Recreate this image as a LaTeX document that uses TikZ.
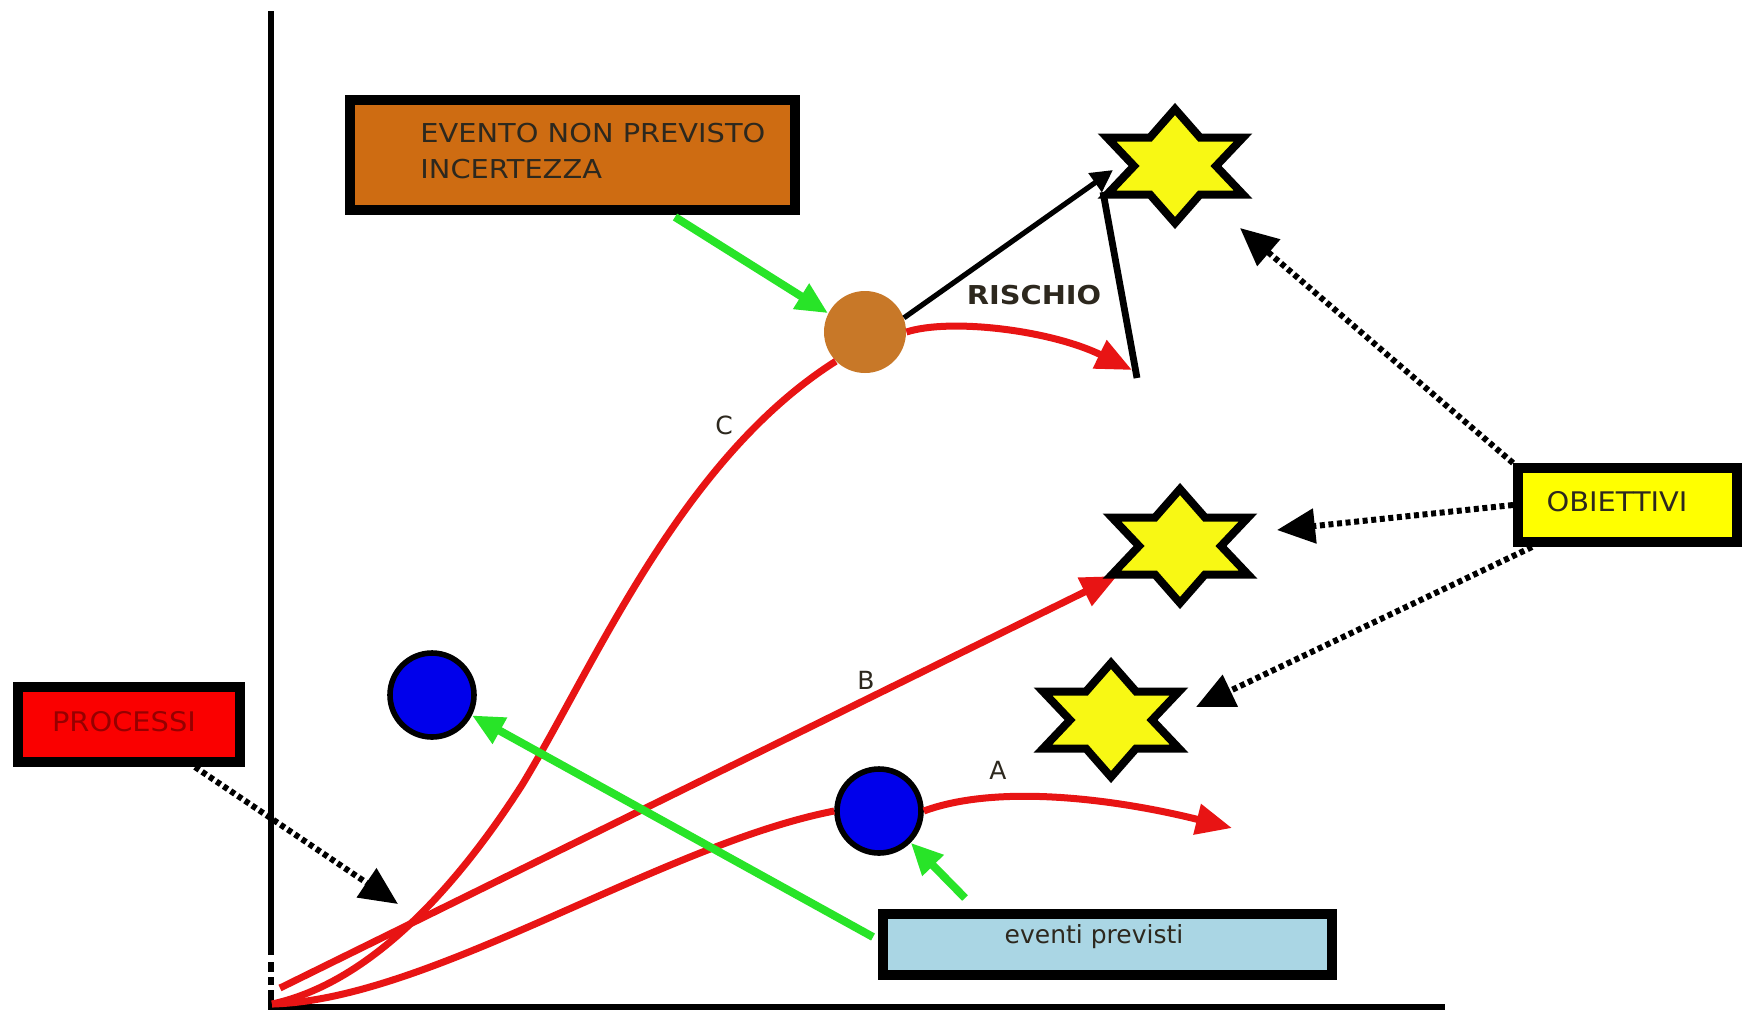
\documentclass[tikz,border=0pt]{standalone}
\usepackage{fontspec}
\setmainfont{DejaVu Sans}
\newfontfamily\widefont[FakeStretch=1.11]{DejaVu Sans}
\newfontfamily\midfont[FakeStretch=1.07]{DejaVu Sans}
\usetikzlibrary{arrows.meta}
\definecolor{evboxc}{RGB}{206,108,18}
\definecolor{brownc}{RGB}{200,120,40}
\definecolor{redc}{RGB}{232,20,20}
\definecolor{procc}{RGB}{250,0,0}
\definecolor{proctxt}{RGB}{150,0,0}
\definecolor{yelc}{RGB}{255,255,0}
\definecolor{starc}{RGB}{248,248,20}
\definecolor{ltblue}{RGB}{170,214,228}
\definecolor{greenc}{RGB}{40,228,40}
\definecolor{bluec}{RGB}{0,0,235}
\definecolor{txtc}{RGB}{45,40,30}
\newcommand\hexstar[2]{%
  \draw[starsty, shift={(#1,#2)}] (0,-57) -- (25,-28.5) -- (68,-28.5) -- (41,0) -- (68,28.5) -- (25,28.5)
    -- (0,57) -- (-25,28.5) -- (-68,28.5) -- (-41,0) -- (-68,-28.5) -- (-25,-28.5) -- cycle;}
\begin{document}
\begin{tikzpicture}[x=0.5pt,y=-0.5pt,
  axis/.style={draw=black, line width=3pt},
  redline/.style={draw=redc, line width=3.5pt},
  redarrow/.style={redline, -{Triangle[length=18pt,width=15pt]}},
  greenarrow/.style={draw=greenc, line width=4pt, -{Triangle[length=16pt,width=14pt]}},
  dotarrow/.style={draw=black, line width=3pt, dash pattern=on 2.5pt off 1.8pt, -{Triangle[length=19pt,width=17pt]}},
  boxsty/.style={draw=black, line width=5pt, inner sep=0pt},
  starsty/.style={fill=starc, draw=black, line width=4pt, miter limit=10},
  bluedot/.style={circle, fill=bluec, draw=black, line width=2.8pt, minimum size=42pt, inner sep=0pt},
  lbl/.style={text=txtc, font=\fontsize{12.5}{15}\selectfont, inner sep=0pt},
]
\useasboundingbox (0,0) rectangle (1743,1013);
\fill[white] (0,0) rectangle (1743,1013);

% axes
\draw[axis] (271,11) -- (271,955);
\draw[axis] (271,962) -- (271,972);
\draw[axis] (271,977) -- (271,985);
\draw[axis] (271,990) -- (271,1008);
\draw[axis] (268,1007) -- (1445,1007);

% nodes
\node[circle, fill=brownc, minimum size=41pt, inner sep=0pt] (brown) at (865,332) {};
\coordinate (o) at (272,1004);
\coordinate (bstart) at (280,988);
\coordinate (btip) at (1117,576);
\coordinate (atip) at (1232,828);
\coordinate (ctip) at (1132,370);
\coordinate (rtip) at (1113,170);
\coordinate (rtop) at (1103,192);
\coordinate (rbot) at (1137,378);

% red curves
\draw[redline] (o) .. controls (360,985) and (445,905) .. (522,785)
   .. controls (595,665) and (680,460) .. (brown.south west);
\draw[redarrow] (bstart) -- (btip);
\node[bluedot] (blue2) at (879,811) {};
\node[bluedot] (blue1) at (432,695) {};
\draw[redline] (o) .. controls (430,1000) and (660,845) .. (blue2.west);
\draw[redarrow] (blue2.east) .. controls (1000,783) and (1120,800) .. (atip);
\draw[redarrow] (brown.east) .. controls (950,318) and (1050,330) .. (ctip);

% risk lines
\draw[black, line width=2.6pt, -{Triangle[length=11pt,width=11pt]}] (brown.20) -- (rtip);
\draw[black, line width=3.4pt] (rtop) -- (rbot);
\node[text=txtc, font=\widefont\fontsize{13}{15}\bfseries\selectfont, inner sep=0pt] (rischio) at (1034,295) {RISCHIO};

% labels on curves
\node[lbl] (labC) at (724,425) {C};
\node[lbl] (labB) at (866,680) {B};
\node[lbl] (labA) at (998,770) {A};

% stars
\hexstar{1175}{166}
\coordinate (star1) at (1175,166);
\hexstar{1180}{546}
\coordinate (star2) at (1180,546);
\hexstar{1111}{720}
\coordinate (star3) at (1111,720);

% boxes
\node[boxsty, fill=evboxc, minimum width=222.5pt, minimum height=55pt] (evento) at (572.5,155) {};
\node[anchor=base west, text=txtc, font=\widefont\fontsize{13}{15}\selectfont, inner sep=0pt] (ev1) at (420,142) {EVENTO NON PREVISTO};
\node[anchor=base west, text=txtc, font=\widefont\fontsize{13}{15}\selectfont, inner sep=0pt] (ev2) at (420,178) {INCERTEZZA};

\node[boxsty, fill=yelc, minimum width=109.5pt, minimum height=37pt] (obiettivi) at (1627.5,505) {};
\node[text=txtc, font=\midfont\fontsize{13.5}{15}\selectfont, inner sep=0pt] (obtxt) at (1617,502) {OBIETTIVI};

\node[boxsty, fill=procc, minimum width=111pt, minimum height=37.5pt] (processi) at (129,724.5) {};
\node[text=proctxt, font=\midfont\fontsize{13.5}{15}\selectfont, inner sep=0pt] (prtxt) at (124,722) {PROCESSI};

\node[boxsty, fill=ltblue, minimum width=224.5pt, minimum height=30.5pt] (eventi) at (1107.5,944.5) {};
\node[anchor=base, text=txtc, font=\fontsize{12.5}{15}\selectfont, inner sep=0pt] (evtxt) at (1094,943) {eventi previsti};

% green arrows
\coordinate (g1s) at (675,217);
\coordinate (g2s) at (873,937);
\coordinate (g3s) at (965,898);
\draw[greenarrow] (g1s) -- (brown.153);
\draw[greenarrow] (g2s) -- (blue1.-27);
\draw[greenarrow] (g3s) -- (blue2.-45);

% dotted arrows
\coordinate (p1s) at (195,767);
\coordinate (p1t) at (398,904);
\coordinate (o1t) at (1240,228);
\coordinate (o2t) at (1277,530);
\coordinate (o3s) at (1532,547);
\coordinate (o3t) at (1196,707);
\draw[dotarrow] (p1s) -- (p1t);
\draw[dotarrow] (obiettivi.north west) -- (o1t);
\draw[dotarrow] (obiettivi.west) -- (o2t);
\draw[dotarrow] (o3s) -- (o3t);
\end{tikzpicture}
\end{document}
